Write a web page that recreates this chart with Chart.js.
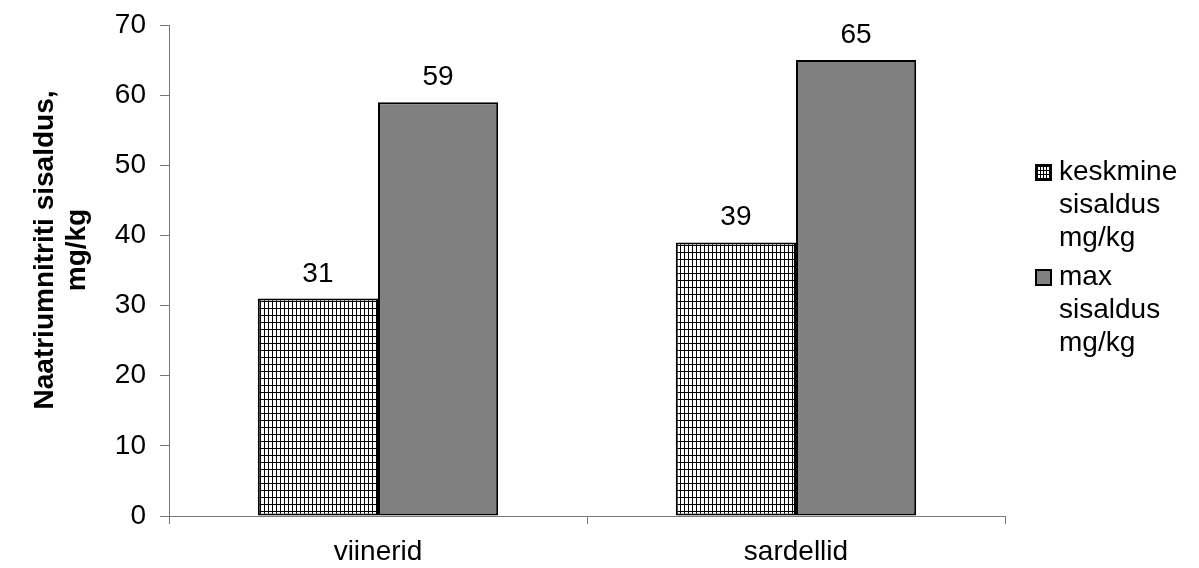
<!DOCTYPE html>
<html>
<head>
<meta charset="utf-8">
<script src="https://cdn.jsdelivr.net/npm/chart.js@4/dist/chart.umd.min.js"></script>
<style>
  html, body { margin: 0; padding: 0; background: #fff; }
  #wrap { position: relative; width: 1199px; height: 568px; }
  #legend {
    position: absolute; left: 1035px; top: 154px;
    font-family: "Liberation Sans", Arial, sans-serif; font-size: 28px;
    color: #000; line-height: 33px;
  }
  .item { display: flex; align-items: flex-start; margin-bottom: 6px; }
  .sw { width: 17px; height: 17px; border: 2px solid #000; margin: 10px 7px 0 0; box-sizing: border-box; flex: none; }
  .sw.grid {
    background-color: #fff;
    background-image:
      repeating-linear-gradient(90deg, #000 0 1px, transparent 1px 3px),
      repeating-linear-gradient(0deg, #000 0 1px, transparent 1px 4px);
  }
  .sw.grey { background: #808080; }
</style>
</head>
<body>
<div id="wrap">
  <canvas id="chart" width="1199" height="568"></canvas>
  <div id="legend">
    <div class="item"><span class="sw grid"></span><span>keskmine<br>sisaldus<br>mg/kg</span></div>
    <div class="item"><span class="sw grey"></span><span>max<br>sisaldus<br>mg/kg</span></div>
  </div>
</div>
<script>
/* ==========================================
   DATA
========================================== */

const categories = ["viinerid", "sardellid"];
const avgValues = [31, 39];
const maxValues = [59, 65];
const seriesNames = ["keskmine sisaldus mg/kg", "max sisaldus mg/kg"];
const yTicks = [0, 10, 20, 30, 40, 50, 60, 70];
const yTitle = ["Naatriumnitriti sisaldus,", "mg/kg"];

const FONT = "'Liberation Sans', Arial, sans-serif";

/* ==========================================
   GRID PATTERN FOR FIRST SERIES
========================================== */

function makeGridPattern() {
  const c = document.createElement("canvas");
  c.width = 4;
  c.height = 7;
  const g = c.getContext("2d");
  g.fillStyle = "#fff";
  g.fillRect(0, 0, 4, 7);
  g.fillStyle = "#000";
  g.fillRect(0, 0, 1, 7);
  g.fillRect(0, 0, 4, 1);
  return document.getElementById("chart").getContext("2d").createPattern(c, "repeat");
}

/* ==========================================
   VALUE LABELS ABOVE BARS + Y TITLE
========================================== */

const valueLabels = {
  id: "valueLabels",
  afterDatasetsDraw(chart) {
    const ctx = chart.ctx;
    ctx.save();
    ctx.font = "28px " + FONT;
    ctx.fillStyle = "#000";
    ctx.textAlign = "center";
    ctx.textBaseline = "alphabetic";
    chart.data.datasets.forEach((ds, i) => {
      chart.getDatasetMeta(i).data.forEach((bar, j) => {
        ctx.fillText(ds.data[j], bar.x, bar.y - 17);
      });
    });
    ctx.restore();
  }
};

const sideTitle = {
  id: "sideTitle",
  afterDraw(chart) {
    const ctx = chart.ctx;
    ctx.save();
    ctx.translate(0, 250);
    ctx.rotate(-Math.PI / 2);
    ctx.font = "bold 28px " + FONT;
    ctx.fillStyle = "#000";
    ctx.textAlign = "center";
    ctx.textBaseline = "middle";
    ctx.fillText(yTitle[0], 0, 45);
    ctx.fillText(yTitle[1], 0, 77);
    ctx.restore();
  }
};

/* ==========================================
   BAR CHART
========================================== */

new Chart(document.getElementById("chart"), {
  type: "bar",
  data: {
    labels: categories,
    datasets: [
      {
        label: seriesNames[0],
        data: avgValues,
        backgroundColor: makeGridPattern(),
        borderColor: "#000",
        borderWidth: 2,
        borderSkipped: false
      },
      {
        label: seriesNames[1],
        data: maxValues,
        backgroundColor: "#808080",
        borderColor: "#000",
        borderWidth: 2,
        borderSkipped: false
      }
    ]
  },
  options: {
    responsive: false,
    animation: false,
    layout: { padding: { top: 25, right: 194, bottom: 0, left: 0 } },
    plugins: {
      legend: { display: false },
      tooltip: { enabled: false }
    },
    datasets: {
      bar: { categoryPercentage: 0.575, barPercentage: 1.0 }
    },
    scales: {
      x: {
        grid: {
          display: true,
          drawOnChartArea: false,
          offset: true,
          tickLength: 8,
          color: "#777"
        },
        border: { color: "#777", width: 1 },
        ticks: { color: "#000", font: { family: FONT, size: 28 }, padding: 11 },
        afterFit(scale) { scale.height = 52; }
      },
      y: {
        min: 0,
        max: 70,
        afterBuildTicks(scale) { scale.ticks = yTicks.map(v => ({ value: v })); },
        grid: {
          display: true,
          drawOnChartArea: false,
          tickLength: 9,
          color: "#777"
        },
        border: { color: "#777", width: 1 },
        ticks: { color: "#000", font: { family: FONT, size: 28, lineHeight: 1 }, padding: 14 },
        afterFit(scale) {
          scale.width = 169;
          scale.paddingTop = 0;
          scale.paddingBottom = 0;
        }
      }
    }
  },
  plugins: [valueLabels, sideTitle]
});
</script>
</body>
</html>
